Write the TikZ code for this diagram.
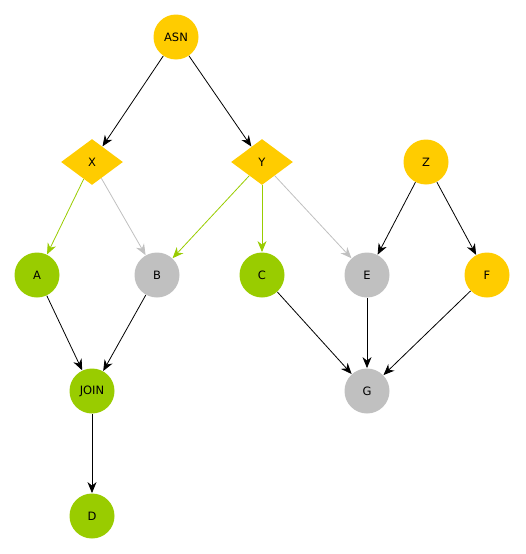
\documentclass[tikz,border=0pt]{standalone}
\usepackage{fontspec}
\setmainfont{DejaVu Sans}
\usetikzlibrary{arrows.meta,shapes.geometric}
\definecolor{nodeyellow}{HTML}{FFCC00}
\definecolor{nodegreen}{HTML}{99CC00}
\definecolor{nodegray}{HTML}{C0C0C0}
\begin{document}
\begin{tikzpicture}
      [x = 1pt, y = -1pt, line width = .8pt,
       every node/.style = {font = \fontsize{11.5}{13}\selectfont, inner sep = 0pt},
       vertex/.style = {circle, minimum size = 45pt},
       test/.style = {diamond, minimum width = 62pt, minimum height = 46pt, fill = nodeyellow},
       edge/.style = {-{Stealth[length = 11pt, width = 9pt, inset = 3.5pt]}}]
      \useasboundingbox (0,0) rectangle (525,554);
      \node[test] (x) at (92,162) {X};
      \node[test] (y) at (262,162) {Y};
      \foreach \n/\t/\c/\p in {asn/ASN/nodeyellow/{176,37}, z/Z/nodeyellow/{426,162},
        a/A/nodegreen/{37,275}, b/B/nodegray/{157,275}, c/C/nodegreen/{262,275},
        e/E/nodegray/{367,275}, f/F/nodeyellow/{487,275},
        join/JOIN/nodegreen/{92,391}, g/G/nodegray/{367,391}, d/D/nodegreen/{92,516}}
        \node[vertex, fill = \c] (\n) at (\p) {\t};
      \foreach \u/\v in {asn/x, asn/y, z/e, z/f, a/join, b/join, c/g, e/g, f/g, join/d}
        \draw[edge] (\u) -- (\v);
      \foreach \u/\v in {x/a, y/b, y/c}
        \draw[edge, nodegreen] (\u) -- (\v);
      \foreach \u/\v in {x/b, y/e}
        \draw[edge, nodegray] (\u) -- (\v);
    \end{tikzpicture}
\end{document}
